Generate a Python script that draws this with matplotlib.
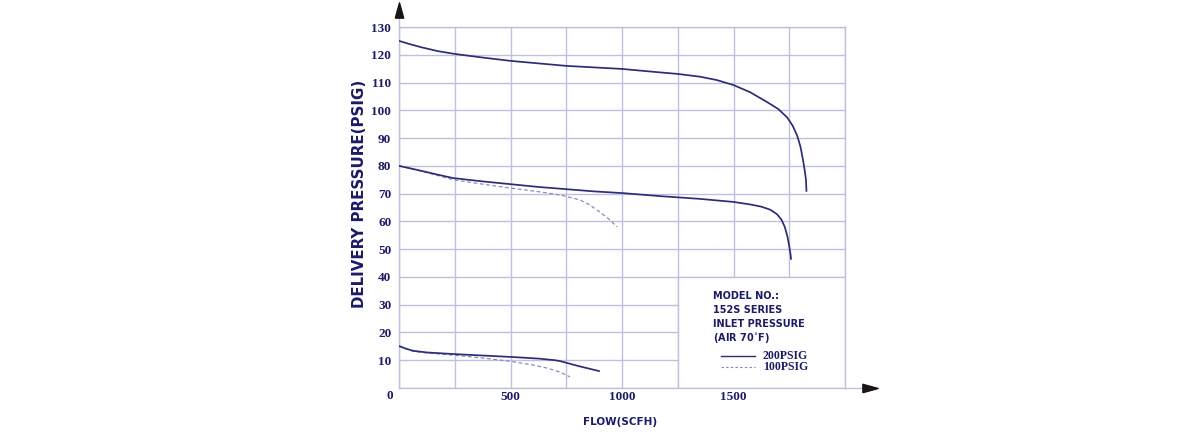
import matplotlib
matplotlib.use("Agg")
import matplotlib.pyplot as plt
from matplotlib.patches import Rectangle

NAVY = "#1c1c66"
LINE = "#2c2c78"
DASH = "#8686b8"
GRID = "#c0c0dc"

# 200 PSIG inlet (solid) curves
hi_200_x = [0, 50, 100, 175, 250, 375, 500, 750, 1000, 1150, 1250, 1350, 1425, 1500,
            1575, 1650, 1700, 1740, 1765, 1785, 1800, 1812, 1820, 1825, 1827]
hi_200_y = [125, 123.8, 122.7, 121.3, 120.3, 119, 117.8, 116, 114.9, 113.8, 113.1, 112.1, 110.9, 109.1,
            106.5, 103, 100.5, 97.5, 94.5, 91, 87, 82, 78, 75, 71]

mid_200_x = [0, 50, 100, 175, 243, 375, 500, 625, 750, 875, 1000, 1170, 1350, 1500,
             1575, 1625, 1665, 1695, 1715, 1730, 1742, 1750, 1756, 1758]
mid_200_y = [80, 79.1, 78.2, 76.8, 75.6, 74.4, 73.4, 72.4, 71.6, 70.8, 70.2, 69.1, 68.1, 67,
             66.1, 65.3, 64.2, 62.6, 60.6, 58, 54.5, 51, 48, 46.5]

lo_200_x = [0, 30, 63, 125, 250, 375, 500, 625, 700, 722, 800, 897]
lo_200_y = [15.1, 14.2, 13.4, 12.8, 12.2, 11.7, 11.2, 10.6, 10, 9.7, 8, 6.1]

# 100 PSIG inlet (dashed) curves
mid_100_x = [0, 100, 243, 375, 500, 625, 700, 750, 812, 850, 888, 920, 946, 978]
mid_100_y = [80, 78.1, 75, 73.4, 72, 70.7, 69.8, 69, 67.7, 66.2, 64.1, 62.2, 60.5, 58]

lo_100_x = [0, 63, 125, 250, 375, 500, 600, 663, 720, 767]
lo_100_y = [15.1, 13.2, 12.6, 11.8, 10.8, 9.6, 8.3, 7.2, 5.8, 4]

Y_TICKS = list(range(0, 131, 10))
X_TICKS = list(range(0, 2001, 250))
X_LABELS = {500: "500", 1000: "1000", 1500: "1500"}

NOTE_LINES = ["MODEL NO.:", "152S SERIES", "INLET PRESSURE", "(AIR 70$^{\\circ}$F)"]

fig = plt.figure(figsize=(12, 4.45), dpi=100)
ax = fig.add_axes([399 / 1200, 57 / 445, 446 / 1200, 361 / 445])

ax.set_xlim(0, 2000)
ax.set_ylim(0, 130)
ax.set_axisbelow(True)
ax.grid(True, color=GRID, linewidth=1.0)
for s in ax.spines.values():
    s.set_color(GRID)
    s.set_linewidth(1.0)

ax.set_xticks(X_TICKS)
ax.set_xticklabels([X_LABELS.get(v, "") for v in X_TICKS])
ax.set_yticks(Y_TICKS)
ax.set_yticklabels(["" if v == 0 else str(v) for v in Y_TICKS])
ax.tick_params(length=0, labelcolor=NAVY)
ax.tick_params(axis="y", pad=5.5)
ax.tick_params(axis="x", pad=2.5)
for lab in ax.get_xticklabels() + ax.get_yticklabels():
    lab.set_fontfamily("Liberation Serif")
    lab.set_fontweight("bold")
    lab.set_fontsize(9.5)
ax.text(-0.02, -0.022, "0", transform=ax.transAxes, ha="center", va="center",
        fontfamily="Liberation Serif", fontweight="bold", fontsize=9.5, color=NAVY)

# white note box over the lower-right grid cells
ax.add_patch(Rectangle((1250, 0), 750, 40, facecolor="white", edgecolor=GRID,
                       linewidth=1.0, zorder=1))

# curves
for xs, ys in [(hi_200_x, hi_200_y), (mid_200_x, mid_200_y), (lo_200_x, lo_200_y)]:
    ax.plot(xs, ys, color=LINE, linewidth=1.25, zorder=3)
for xs, ys in [(mid_100_x, mid_100_y), (lo_100_x, lo_100_y)]:
    ax.plot(xs, ys, color=DASH, linewidth=0.85, dashes=(3.2, 2.2), zorder=2.5)

# axis arrows
ax.plot([1, 1.045], [0, 0], transform=ax.transAxes, color=GRID, linewidth=1.0, clip_on=False)
ax.plot([0, 0], [1, 1.035], transform=ax.transAxes, color=GRID, linewidth=1.0, clip_on=False)
head_r = [(-1, -0.55), (1, 0), (-1, 0.55), (-1, -0.55)]
head_u = [(-0.55, -1), (0, 1), (0.55, -1), (-0.55, -1)]
ax.plot(1.055, 0, marker=head_r, markersize=11, color="#1a1414", transform=ax.transAxes, clip_on=False)
ax.plot(0, 1.047, marker=head_u, markersize=11, color="#1a1414", transform=ax.transAxes, clip_on=False)

# axis titles
fig.text(359 / 1200, 1 - 194 / 445, "DELIVERY PRESSURE(PSIG)", rotation=90, ha="center", va="center",
         fontfamily="DejaVu Sans", fontweight="bold", fontsize=10.8, color=NAVY)
fig.text(620 / 1200, 1 - 422 / 445, "FLOW(SCFH)", ha="center", va="center",
         fontfamily="DejaVu Sans", fontweight="bold", fontsize=7.5, color=NAVY)

# note text and legend
for i, t in enumerate(NOTE_LINES):
    ax.text(0.704, 0.255 - i * 0.0385, t, transform=ax.transAxes, ha="left", va="center",
            fontfamily="DejaVu Sans", fontweight="bold", fontsize=7, color=NAVY)
ax.plot([0.722, 0.798], [0.0886, 0.0886], transform=ax.transAxes, color=LINE, linewidth=1.0)
ax.plot([0.722, 0.798], [0.058, 0.058], transform=ax.transAxes, color=DASH, linewidth=0.8, dashes=(2.2, 2))
ax.text(0.816, 0.0886, "200PSIG", transform=ax.transAxes, ha="left", va="center",
        fontfamily="Liberation Serif", fontweight="bold", fontsize=8.5, color=NAVY)
ax.text(0.816, 0.058, "100PSIG", transform=ax.transAxes, ha="left", va="center",
        fontfamily="Liberation Serif", fontweight="bold", fontsize=8.5, color=NAVY)

fig.savefig("out.png", dpi=100)
